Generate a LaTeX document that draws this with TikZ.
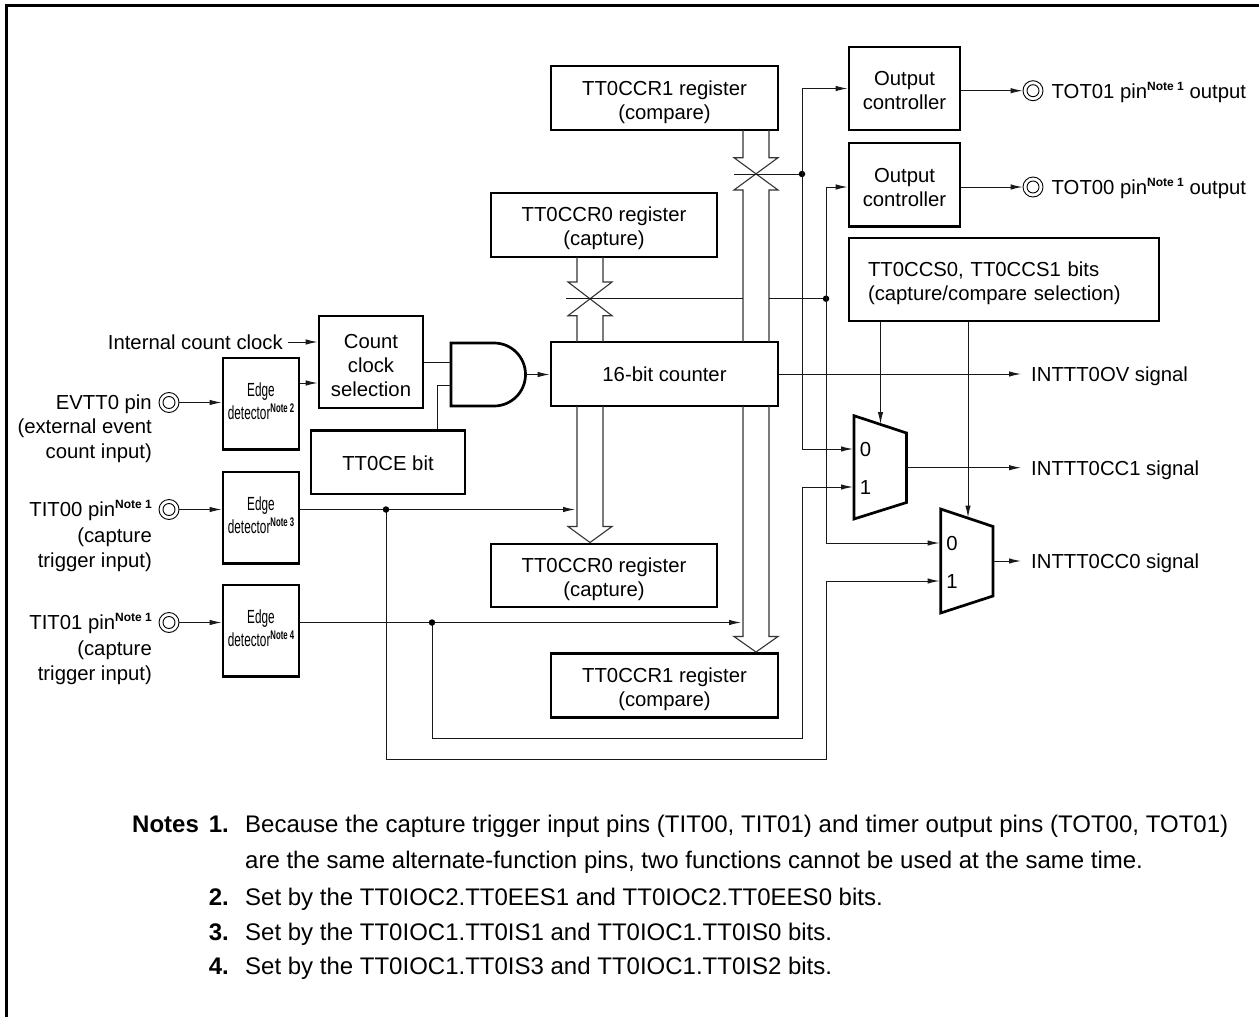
\documentclass[tikz,border=0pt]{standalone}
\usepackage{fontspec}
\setmainfont{Liberation Sans}
\usetikzlibrary{arrows.meta,calc}
\tikzset{
  x=1pt,y=-1pt,
  wire/.style={line width=1pt,black!90},
  arr/.style={wire,-{Latex[length=12pt,width=5.5pt]}},
  thickbox/.style={draw,line width=2.7pt,fill=white,minimum width=#1,inner sep=0pt,align=center,font=\fontsize{20.3}{24}\selectfont},
  busline/.style={line width=1.1pt,black!80,line join=miter},
  lab/.style={inner sep=0pt,font=\fontsize{20.3}{24.5}\selectfont,align=right},
  txt/.style={inner sep=0pt,font=\fontsize{20.3}{24}\selectfont,anchor=base west},
  notetxt/.style={inner sep=0pt,font=\fontsize{24}{28}\selectfont,anchor=base west},
  dot/.style={circle,fill=black,inner sep=0pt,minimum size=6.5pt},
  pin/.style={circle,draw,line width=0.9pt,inner sep=0pt,minimum size=20pt,path picture={\draw[line width=0.9pt] (path picture bounding box.center) circle (6pt);}},
  muxshape/.style={draw,line width=2.7pt,fill=white,line join=miter},
}
\newcommand{\boxat}[7][]{\node[thickbox=#5-#3,minimum height=#6-#4,#1] (#2) at ({(#3+#5)/2},{(#4+#6)/2}) {#7};}
\newcommand{\dn}[1]{\rule{0pt}{#1pt}}
\newcommand{\NoteS}[1]{\smash{\raisebox{7.5pt}{\bfseries\fontsize{12}{12}\selectfont #1}}}
\newcommand{\EdgeT}[1]{\raisebox{-5pt}{\scalebox{0.62}[1]{\fontsize{19}{23}\selectfont\begin{tabular}{@{}c@{}}Edge\\detector\smash{\raisebox{7pt}{\bfseries\fontsize{12.5}{12.5}\selectfont Note #1}}\end{tabular}}}}
\begin{document}
\begin{tikzpicture}
\useasboundingbox (0,0) rectangle (1259,1017);
% frame
\draw[line width=2.8pt,line cap=butt] (6.5,1017) -- (6.5,5.5) -- (1259,5.5);

\coordinate (dA) at (802,174);
\coordinate (dB) at (826,298.7);
\coordinate (jT0) at (386,509.5);
\coordinate (jT1) at (432,622.5);

% boxes
\boxat{ccrA}{551}{66}{778}{130}{\dn{22.8}TT0CCR1 register\\(compare)}
\boxat{ccrB}{491}{193}{717}{257}{\dn{20.8}TT0CCR0 register\\(capture)}
\boxat{cnt}{551}{342}{778}{406}{16-bit counter}
\boxat{ccrC}{491}{544}{717}{607}{\dn{22.8}TT0CCR0 register\\(capture)}
\boxat{ccrD}{551}{653.5}{778}{717.5}{\dn{22.8}TT0CCR1 register\\(compare)}
\boxat{ocA}{849}{47}{960}{130}{\dn{18.8}Output\\controller}
\boxat{ocB}{849}{143}{960}{226.5}{\dn{18.8}Output\\controller}
\boxat[align=left,text width=272pt]{sel}{849}{238}{1159}{321}{\dn{22.8}TT0CCS0, TT0CCS1 bits\\(capture/compare selection)}
\boxat{ccs}{319}{316}{423}{408}{\dn{20.6}Count\\clock\\selection}
\boxat{ce}{311}{430.5}{465}{494}{\dn{16.6}TT0CE bit}
\boxat{edA}{223}{358}{299}{449.5}{\EdgeT{2}}
\boxat{edB}{223}{472}{299}{563.5}{\EdgeT{3}}
\boxat{edC}{223}{585}{299}{676.5}{\EdgeT{4}}

% AND gate
\node[inner sep=0pt,minimum size=0pt] (andOut) at (525.5,374.5) {};
\draw[line width=2.7pt,line join=miter] (451,343) -- (494,343) .. controls (511.4,343) and (525.5,357.1) .. (525.5,374.5) .. controls (525.5,391.9) and (511.4,406) .. (494,406) -- (451,406) -- cycle;

% muxes
\draw[muxshape] (854,415.7) -- (906.5,433) -- (906.5,502.5) -- (854,519) -- cycle;
\draw[muxshape] (940.7,509) -- (993,526.5) -- (993,596) -- (940.7,613) -- cycle;
\node[txt,anchor=center] (m00) at (865.5,449.5) {0};
\node[txt,anchor=center] (m01) at (865.5,487.5) {1};
\node[txt,anchor=center] (m10) at (952,543.5) {0};
\node[txt,anchor=center] (m11) at (952,581.5) {1};
\coordinate (mAt) at (880.5,424);
\coordinate (mBt) at (968,517.5);
\coordinate (mAi0) at (853,449);
\coordinate (mAi1) at (853,487);
\coordinate (mBi0) at (939.5,543);
\coordinate (mBi1) at (939.5,581);
\coordinate (mAo) at (906.5,467.7);
\coordinate (mBo) at (993,561);

% pins
\node[pin] (pE) at (169,402.5) {};
\node[pin] (pT0) at (169,509.5) {};
\node[pin] (pT1) at (169,622.5) {};
\node[pin] (pO1) at (1033,90.7) {};
\node[pin] (pO0) at (1033,187) {};

% labels on the left
\node[lab,anchor=base east] (lE) at (152,458) {EVTT0 pin\\(external event\\count input)};
\node[lab,anchor=base east] (lT0) at (152,567) {TIT00 pin\NoteS{Note 1}\\[2pt](capture\\trigger input)};
\node[lab,anchor=base east] (lT1) at (152,680) {TIT01 pin\NoteS{Note 1}\\[2pt](capture\\trigger input)};
\node[lab,anchor=base east] (lI) at (283,349) {Internal count clock};
\coordinate (lIe) at (288,342);

% labels on the right
\node[txt] (lO1) at (1051.5,98) {TOT01 pin\NoteS{Note 1} output};
\node[txt] (lO0) at (1051.5,194) {TOT00 pin\NoteS{Note 1} output};
\node[txt] (lOV) at (1031,381) {INTTT0OV signal};
\node[txt] (lC1) at (1031,475) {INTTT0CC1 signal};
\node[txt] (lC0) at (1031,568) {INTTT0CC0 signal};

% buses
\draw[busline] (743,130) -- (743,157.7) -- (734,157.7) -- (778,190) -- (769,190) -- (769,342);
\draw[busline] (769,130) -- (769,157.7) -- (778,157.7) -- (734,190) -- (743,190) -- (743,342);
\draw[busline] (577,257) -- (577,282) -- (568,282) -- (612,315.7) -- (603,315.7) -- (603,342);
\draw[busline] (603,257) -- (603,282) -- (612,282) -- (568,315.7) -- (577,315.7) -- (577,342);
\draw[busline] (577,406) -- (577,526.5) -- (568,526.5) -- (590,542.5) -- (612,526.5) -- (603,526.5) -- (603,406);
\draw[busline] (743,406) -- (743,636.5) -- (734,636.5) -- (756,652) -- (778,636.5) -- (769,636.5) -- (769,406);

% control lines to the bus gates
\draw[wire] (734,174) -- (dA);
\draw[wire] (566,298.7) -- (743,298.7);
\draw[wire] (769,298.7) -- (dB);
\node[dot] at (dA) {};
\node[dot] at (dB) {};

% compare/capture lines to outputs and muxes
\draw[arr] (dA) |- (ocA.west);
\draw[arr] (dA) -- (802,449) -- (mAi0);
\draw[arr] (dB) |- (ocB.west |- 0,187);
\draw[arr] (dB) -- (826,543) -- (mBi0);
\draw[arr] (sel.south -| mAt) -- (mAt);
\draw[arr] (sel.south -| mBt) -- (mBt);

% clock path
\draw[arr] (lIe) -- (ccs.west |- lIe);
\draw[arr] (pE.east) -- (edA.west |- pE);
\draw[arr] (edA.east |- 0,383) -- (ccs.west |- 0,383);
\draw[wire] (ccs.east |- 0,362.5) -- (451,362.5);
\draw[wire] (ce.north -| 437,0) -- (437,385) -- (451,385);
\draw[arr] (andOut) -- (cnt.west |- andOut);

% counter overflow and mux outputs
\draw[arr] (cnt.east) -- (1021,374);
\draw[arr] (mAo) -- (1021,467.7);
\draw[arr] (mBo) -- (1021,561);

% outputs
\draw[arr] (ocA.east |- pO1) -- (pO1.west);
\draw[arr] (ocB.east |- pO0) -- (pO0.west);

% capture triggers
\draw[arr] (pT0.east) -- (edB.west |- pT0);
\draw[arr] (pT1.east) -- (edC.west |- pT1);
\draw[arr] (edB.east |- jT0) -- (575,509.5);
\draw[arr] (edC.east |- jT1) -- (741,622.5);
\draw[arr] (jT1) -- (432,738) -- (802,738) -- (802,487) -- (mAi1);
\draw[arr] (jT0) -- (386,759.5) -- (826,759.5) -- (826,581) -- (mBi1);
\node[dot] at (jT0) {};
\node[dot] at (jT1) {};

% notes
\node[notetxt] (n0) at (132,832) {\textbf{Notes}};
\node[notetxt,anchor=base east] (n1) at (229,832) {\textbf{1.}};
\node[notetxt] (t1) at (245,832) {\hbox to 983pt{Because the capture trigger input pins (TIT00, TIT01) and timer output pins (TOT00, TOT01)}};
\node[notetxt] (t1b) at (245,868) {are the same alternate-function pins, two functions cannot be used at the same time.};
\node[notetxt,anchor=base east] (n2) at (229,905) {\textbf{2.}};
\node[notetxt] (t2) at (245,905) {Set by the TT0IOC2.TT0EES1 and TT0IOC2.TT0EES0 bits.};
\node[notetxt,anchor=base east] (n3) at (229,940) {\textbf{3.}};
\node[notetxt] (t3) at (245,940) {Set by the TT0IOC1.TT0IS1 and TT0IOC1.TT0IS0 bits.};
\node[notetxt,anchor=base east] (n4) at (229,974) {\textbf{4.}};
\node[notetxt] (t4) at (245,974) {Set by the TT0IOC1.TT0IS3 and TT0IOC1.TT0IS2 bits.};
\end{tikzpicture}
\end{document}
